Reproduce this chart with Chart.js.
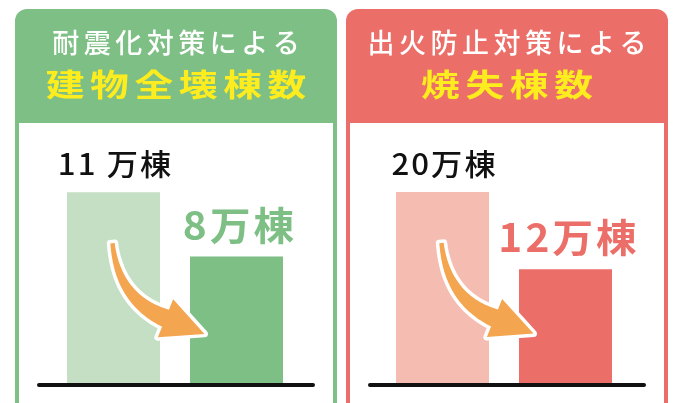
<!DOCTYPE html>
<html lang="ja">
<head>
<meta charset="utf-8">
<script src="https://cdn.jsdelivr.net/npm/chart.js@4.4.0/dist/chart.umd.min.js"></script>
<style>
  html, body { margin: 0; padding: 0; background: #ffffff; width: 679px; height: 403px; overflow: hidden; }
  .panel { position: absolute; top: 0; width: 340px; height: 403px; }
</style>
</head>
<body>
<div class="panel" style="left:0px"><canvas id="quake" width="340" height="403"></canvas></div>
<div class="panel" style="left:331px"><canvas id="fire" width="340" height="403"></canvas></div>
<script>
// ---- data ----
const categories = ['対策前', '対策後'];
const quakeTitle = '耐震化対策による';
const quakeSubtitle = '建物全壊棟数';
const quakeValues = [11, 8];            // 万棟
const quakeValueLabels = ['11 万棟', '8万棟'];
const fireTitle = '出火防止対策による';
const fireSubtitle = '焼失棟数';
const fireValues = [20, 12];            // 万棟
const fireValueLabels = ['20万棟', '12万棟'];

const FONT = "'Noto Sans CJK JP', 'Noto Sans', sans-serif";

function spacedText(ctx, text, cx, y, spacing, sx) {
  sx = sx || 1;
  ctx.save();
  ctx.letterSpacing = spacing + 'px';
  const w = ctx.measureText(text).width - spacing;
  ctx.textAlign = 'left';
  ctx.translate(cx, y);
  ctx.scale(sx, 1);
  ctx.fillText(text, -w / 2, 0);
  ctx.restore();
}

function drawArrow(ctx, ax, ay) {
  const P0 = {x: ax, y: ay};
  const C = {x: ax + 5.6, y: ay + 56};
  const P1 = {x: ax + 53, y: ay + 75};
  const N = 40, left = [], right = [];
  let n = null, d = null;
  for (let i = 0; i <= N; i++) {
    const t = i / N;
    const bx = (1 - t) * (1 - t) * P0.x + 2 * (1 - t) * t * C.x + t * t * P1.x;
    const by = (1 - t) * (1 - t) * P0.y + 2 * (1 - t) * t * C.y + t * t * P1.y;
    const dx = 2 * (1 - t) * (C.x - P0.x) + 2 * t * (P1.x - C.x);
    const dy = 2 * (1 - t) * (C.y - P0.y) + 2 * t * (P1.y - C.y);
    const len = Math.hypot(dx, dy);
    d = {x: dx / len, y: dy / len};
    n = {x: -d.y, y: d.x};
    const hw = 2.2 + 7 * Math.pow(t, 1.3);
    left.push({x: bx + n.x * hw, y: by + n.y * hw});
    right.push({x: bx - n.x * hw, y: by - n.y * hw});
  }
  const hh = 20.5, hl = 42;
  const barbA = {x: P1.x + n.x * hh, y: P1.y + n.y * hh};
  const barbB = {x: P1.x - n.x * hh, y: P1.y - n.y * hh};
  const tip = {x: P1.x + d.x * hl, y: P1.y + d.y * hl};
  ctx.save();
  ctx.beginPath();
  ctx.moveTo(left[0].x, left[0].y);
  left.forEach(p => ctx.lineTo(p.x, p.y));
  ctx.lineTo(barbA.x, barbA.y);
  ctx.lineTo(tip.x, tip.y);
  ctx.lineTo(barbB.x, barbB.y);
  for (let i = right.length - 1; i >= 0; i--) ctx.lineTo(right[i].x, right[i].y);
  ctx.closePath();
  ctx.lineJoin = 'round';
  ctx.strokeStyle = '#ffffff';
  ctx.lineWidth = 7;
  ctx.stroke();
  ctx.fillStyle = '#f4a54f';
  ctx.fill();
  ctx.restore();
}

function makeChart(id, o) {
  const panelPlugin = {
    id: 'panel',
    beforeDraw(chart) {
      const ctx = chart.ctx;
      const x = 15, y = 9, w = 322, r = 12;
      ctx.save();
      ctx.fillStyle = o.main;
      ctx.beginPath();
      ctx.roundRect(x, y, w, 420, [r, r, 0, 0]);
      ctx.fill();
      ctx.fillStyle = '#ffffff';
      ctx.fillRect(x + 4, 123, w - 8, 300);
      const cx = x + w / 2;
      ctx.textBaseline = 'middle';
      ctx.fillStyle = '#ffffff';
      ctx.font = '500 27px ' + FONT;
      spacedText(ctx, o.title, cx, 43, 4.5);
      ctx.fillStyle = '#fdec1e';
      ctx.font = 'bold 31px ' + FONT;
      spacedText(ctx, o.subtitle, cx, 84, 4.5, 1.25);
      ctx.restore();
    },
    afterDatasetsDraw(chart) {
      const ctx = chart.ctx;
      const area = chart.chartArea;
      const bars = chart.getDatasetMeta(0).data;
      ctx.save();
      // baseline
      ctx.strokeStyle = '#111111';
      ctx.lineWidth = 4;
      ctx.lineCap = 'round';
      ctx.beginPath();
      ctx.moveTo(39, area.bottom);
      ctx.lineTo(313, area.bottom);
      ctx.stroke();
      // value labels
      ctx.textBaseline = 'alphabetic';
      ctx.fillStyle = '#111111';
      ctx.font = '500 30px ' + FONT;
      spacedText(ctx, o.labels[0], bars[0].x + 1, bars[0].y - 17, 2, 1.04);
      ctx.fillStyle = o.main;
      ctx.font = 'bold 39px ' + FONT;
      spacedText(ctx, o.labels[1], bars[1].x + 2, bars[1].y - 17, 3, 1.04);
      ctx.restore();
      drawArrow(ctx, bars[0].x - 1, bars[0].y + 51);
    }
  };
  return new Chart(document.getElementById(id), {
    type: 'bar',
    data: {
      labels: categories,
      datasets: [{
        data: o.values,
        backgroundColor: [o.light, o.main],
        borderWidth: 0,
        barPercentage: 1,
        categoryPercentage: 0.756
      }]
    },
    options: {
      responsive: false,
      devicePixelRatio: 1,
      animation: false,
      layout: { padding: o.padding },
      plugins: { legend: { display: false }, tooltip: { enabled: false }, title: { display: false } },
      scales: {
        x: { display: false, grid: { display: false } },
        y: { display: false, min: o.min, max: o.max, grid: { display: false } }
      }
    },
    plugins: [panelPlugin]
  });
}

makeChart('quake', {
  title: quakeTitle, subtitle: quakeSubtitle, values: quakeValues, labels: quakeValueLabels,
  main: '#7dbf84', light: '#c5dfc4', min: 2, max: 14,
  padding: { left: 52, right: 42, top: 128, bottom: 18 }
});
makeChart('fire', {
  title: fireTitle, subtitle: fireSubtitle, values: fireValues, labels: fireValueLabels,
  main: '#ec6e68', light: '#f5bdb1', min: 0, max: 26,
  padding: { left: 50, right: 44, top: 134, bottom: 18 }
});
</script>
</body>
</html>
